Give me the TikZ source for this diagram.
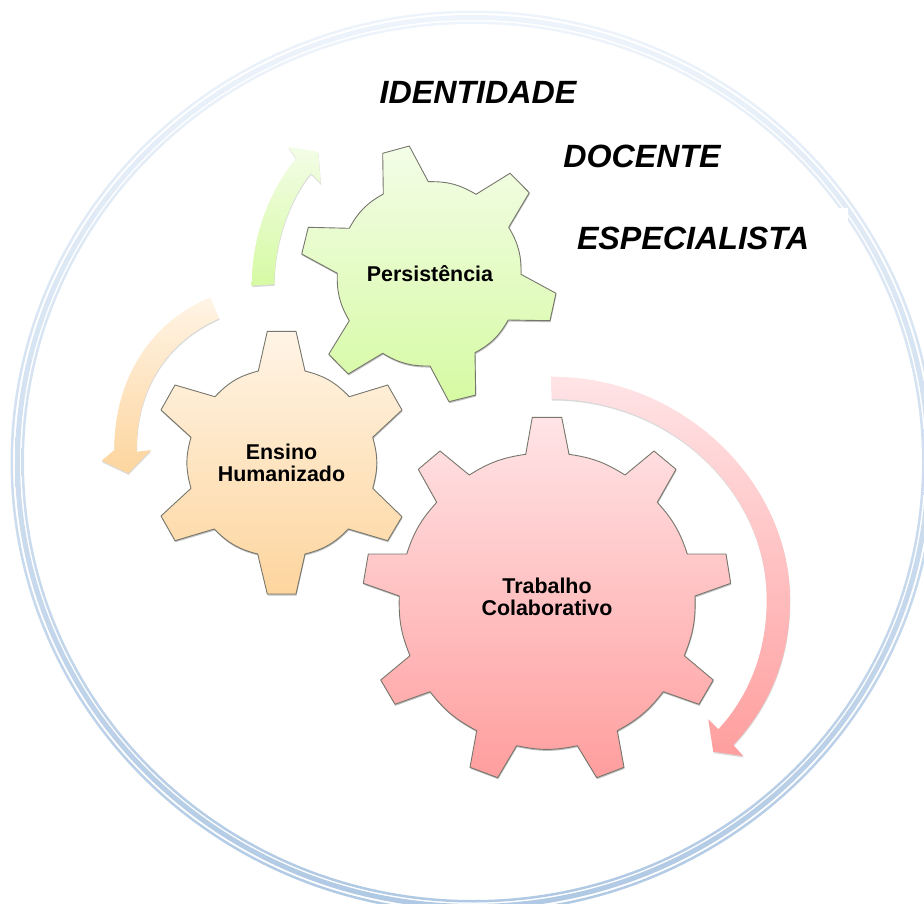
\documentclass[tikz,border=0pt]{standalone}
\usepackage{xcolor}
\usepackage{fontspec}
\setmainfont{Liberation Sans}
\usepackage{tikz}
\usetikzlibrary{shadows}
\definecolor{ringtop}{RGB}{238,244,251}
\definecolor{ringbottom}{RGB}{176,201,228}
\definecolor{gearline}{RGB}{118,118,108}
\definecolor{greentop}{RGB}{243,253,231}
\definecolor{greenbottom}{RGB}{214,250,163}
\definecolor{orangetop}{RGB}{255,244,229}
\definecolor{orangebottom}{RGB}{253,213,158}
\definecolor{redtop}{RGB}{255,228,230}
\definecolor{redbottom}{RGB}{255,158,158}
\begin{document}
\begin{tikzpicture}[x=1pt, y=-1pt,
    ring/.style={even odd rule, top color=ringtop, bottom color=ringbottom},
    gear/.style={draw=gearline, line width=.9pt, line join=round, drop shadow={shadow xshift=.5pt, shadow yshift=-1.5pt, fill=black, opacity=.25}},
    bigarrow/.style={drop shadow={shadow xshift=.3pt, shadow yshift=-1.5pt, fill=black, opacity=.15}},
    gearlabel/.style={align=center, font=\fontsize{21.4}{22}\selectfont\bfseries},
    titleword/.style={font=\fontsize{32.2}{36}\selectfont\bfseries\itshape}]
    \useasboundingbox (0,0) rectangle (924,904);

    \clip (0,0) rectangle (924,904);
    \path[ring] (473,462) ellipse (451.5 and 440.5) (473,462) ellipse (449 and 438);
    \path[ring] (473,462) ellipse (458 and 447) (473,462) ellipse (453 and 442);
    \path[ring] (473,462) ellipse (462.5 and 451.5) (473,462) ellipse (460 and 449);
    \fill[white] (838,208) rectangle (848,222);

    \path[bigarrow, top color=greentop, bottom color=greenbottom] (251.7,285.7) .. controls (251.7,235) and (270,190) .. (296,158.3)
        -- (288.3,146.7) -- (318.3,152) -- (320.7,183.3) -- (311,173.3)
        .. controls (291,197) and (274.5,240) .. (274.3,284.3) -- cycle;
    \path[bigarrow, top color=orangetop, bottom color=orangebottom] (210,297.7) .. controls (150,322) and (114,380) .. (114.3,450)
        -- (101.7,460.7) -- (128.3,473.3) -- (151,450) -- (136.7,451.7)
        .. controls (136,385) and (170,340) .. (219.3,318.3) -- cycle;
    \path[bigarrow, top color=redtop, bottom color=redbottom] (551,376.7) .. controls (680,376) and (790,480) .. (790,600)
        .. controls (790,660) and (768,708) .. (733.3,745)
        -- (743.3,756) -- (713.3,751.7) -- (708.3,719.3) -- (718.3,729.3)
        .. controls (750,695) and (766.7,650) .. (766.7,600)
        .. controls (766.7,490) and (670,399) .. (551.7,399) -- cycle;

    \path[gear, top color=greentop, bottom color=greenbottom] (383.3,194) -- (382.7,153.3) -- (409.3,146) -- (428.3,181.7)
        to[bend left=16] (476,194.3) -- (510,173.3) -- (529.3,192.7) -- (508.7,227.3)
        to[bend left=16] (521,274.3) -- (556,293.3) -- (550,320.7) -- (508.3,320)
        to[bend left=16] (475,352.7) -- (475.7,395) -- (449,401.7) -- (430,366)
        to[bend left=16] (382.7,353.3) -- (348.3,374) -- (328.7,354.3) -- (349.3,320.7)
        to[bend left=16] (337.3,273.3) -- (301.7,254) -- (308.3,227.3) -- (349.3,228.3)
        to[bend left=16] cycle;
    \path[gear, top color=orangetop, bottom color=orangebottom] (258.3,371) -- (267.3,331.3) -- (296,331.3) -- (305,371)
        to[bend left=16] (349.3,396.7) -- (387.7,385) -- (402,410) -- (372.7,437.3)
        to[bend left=16] (372.7,488.3) -- (402,516.7) -- (387.7,540.7) -- (348.3,529)
        to[bend left=16] (305,554) -- (296,594) -- (267.3,594) -- (257.7,554)
        to[bend left=16] (214.3,529) -- (175,540.7) -- (161,516) -- (191,488.3)
        to[bend left=16] (191,437.3) -- (161,410) -- (175,385) -- (215,396.7)
        to[bend left=16] cycle;
    \path[gear, top color=redtop, bottom color=redbottom] (525.7,454.3) -- (532.3,417.3) -- (561.7,417.3) -- (569,454.3)
        to[bend left=12] (625,475) -- (654,451) -- (676,469.3) -- (657.3,502.3)
        to[bend left=12] (687.3,554) -- (726,554) -- (730.7,583.3) -- (695,596)
        to[bend left=12] (684.3,655.7) -- (713.3,680) -- (699,704.3) -- (663.3,691.7)
        to[bend left=12] (617.3,730.7) -- (624,767.3) -- (596.7,777.7) -- (577.3,745.7)
        to[bend left=12] (516.7,745.7) -- (497.7,777.7) -- (470,767.3) -- (476.7,730.7)
        to[bend left=12] (430,691.7) -- (395,704.3) -- (380.7,680) -- (410,655.7)
        to[bend left=12] (399.3,596) -- (363.3,583.3) -- (368.3,554) -- (406.7,554)
        to[bend left=12] (436.7,502.3) -- (418.3,469.3) -- (440,451) -- (469.3,475)
        to[bend left=12] cycle;

    \node[gearlabel] (persistencia) at (430,274) {Persistência};
    \node[gearlabel] (ensino) at (281.5,462.5) {Ensino\\Humanizado};
    \node[gearlabel] (trabalho) at (547,596.5) {Trabalho\\Colaborativo};

    \node[titleword] (identidade) at (478,92.5) {IDENTIDADE};
    \node[titleword] (docente) at (642,156.5) {DOCENTE};
    \node[titleword] (especialista) at (693,238.5) {ESPECIALISTA};
\end{tikzpicture}
\end{document}
